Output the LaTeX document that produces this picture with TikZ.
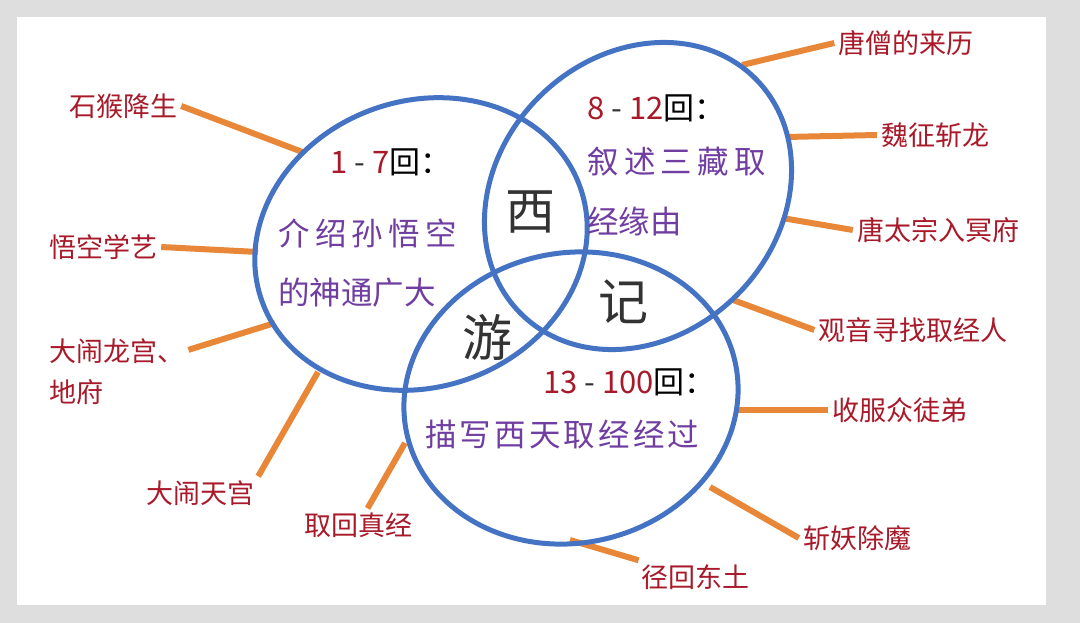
\documentclass[tikz,border=0pt]{standalone}
\usepackage{fontspec}
\setmainfont{Noto Sans CJK SC}
\usepackage{tikz}
\usetikzlibrary{calc}
\usetikzlibrary{positioning}
\usepackage{xcolor}
\definecolor{framegray}{rgb}{0.87,0.87,0.87}
\definecolor{ringblue}{rgb}{0.27,0.45,0.77}
\definecolor{stickorange}{rgb}{0.91,0.53,0.22}
\definecolor{labelred}{rgb}{0.66,0.1,0.16}
\definecolor{descpurple}{rgb}{0.44,0.24,0.63}
\definecolor{bigdark}{rgb}{0.2,0.2,0.2}

\begin{document}
\begin{tikzpicture}[
		x=1pt, y=-1pt,
		ring/.style = {draw=ringblue,	line width=5},
		r/.style = {draw=stickorange,	line width=6},
		lbl/.style = {text=labelred,	font=\fontsize{27}{41}\selectfont,	inner sep=4},
		hd/.style = {anchor=west,	inner sep=0,	font=\fontsize{31}{36}\selectfont},
		desc/.style = {anchor=west,	inner sep=0,	text=descpurple,	font=\fontsize{31.5}{36}\selectfont},
		big/.style = {text=bigdark,	inner sep=0,	font=\fontsize{50}{56}\selectfont}
		]
		\useasboundingbox (0,0) rectangle (1080,623);
		\fill[framegray] (0,0) rectangle (1080,623);
		\fill[white] (17,17) rectangle (1046,605);
		
		%Labels
		\node[lbl]	(shihou)	at	(123,106)	{石猴降生};
		\node[lbl]	(wukong)	at	(103,247)	{悟空学艺};
		\node[lbl, anchor=west, align=left]	(longgong)	at	(45,372)	{大闹龙宫、\\地府};
		\node[lbl]	(datian)	at	(200,493)	{大闹天宫};
		\node[lbl]	(quhui)		at	(358,525)	{取回真经};
		\node[lbl]	(jinghui)	at	(695,577)	{径回东土};
		\node[lbl]	(zhanyao)	at	(857,538)	{斩妖除魔};
		\node[lbl]	(shoufu)	at	(900,410)	{收服众徒弟};
		\node[lbl]	(guanyin)	at	(913,330)	{观音寻找取经人};
		\node[lbl]	(taizong)	at	(938,230)	{唐太宗入冥府};
		\node[lbl]	(weizheng)	at	(935,135)	{魏征斩龙};
		\node[lbl]	(tangseng)	at	(906,43)	{唐僧的来历};
		
		%Ring contact points
		\coordinate	(c1)	at	(305,153);
		\coordinate	(c2)	at	(258,252);
		\coordinate	(c3)	at	(275,323);
		\coordinate	(c4)	at	(318,372);
		\coordinate	(c5)	at	(405,443);
		\coordinate	(c6)	at	(570,540);
		\coordinate	(c7)	at	(710,487);
		\coordinate	(c8)	at	(735,410);
		\coordinate	(c9)	at	(733,300);
		\coordinate	(c10)	at	(782,218);
		\coordinate	(c11)	at	(786,137);
		\coordinate	(c12)	at	(742,65);
		
		%Lines
		\draw[r]	(shihou.east)		--	(c1);
		\draw[r]	(wukong.east)		--	(c2);
		\draw[r]	(longgong)			--	(c3);
		\draw[r]	(datian.north east)	--	(c4);
		\draw[r]	(quhui)				--	(c5);
		\draw[r]	(jinghui)			--	(c6);
		\draw[r]	(zhanyao.west)		--	(c7);
		\draw[r]	(shoufu.west)		--	(c8);
		\draw[r]	(guanyin.west)		--	(c9);
		\draw[r]	(taizong.west)		--	(c10);
		\draw[r]	(weizheng.west)		--	(c11);
		\draw[r]	(tangseng.west)		--	(c12);
		
		%Rings
		\draw[ring, rotate around={20:(421,244)}]	(421,244)	ellipse	(169 and 143);
		\draw[ring, rotate around={45:(638,196)}]	(638,196)	ellipse	(166 and 140);
		\draw[ring, rotate around={12:(571,398)}]	(571,398)	ellipse	(168 and 145);
		
		%Chapters
		\node[hd]	(hd1)	at	(330,162)	{\textcolor{labelred}{1}~\textcolor{bigdark}{-}~\textcolor{labelred}{7}回：};
		\node[hd]	(hd2)	at	(587,108)	{\textcolor{labelred}{8}~\textcolor{bigdark}{-}~\textcolor{labelred}{12}回：};
		\node[hd]	(hd3)	at	(543,382)	{\textcolor{labelred}{13}~\textcolor{bigdark}{-}~\textcolor{labelred}{100}回：};
		\node[desc]	(d1a)	at	(278,233)	{\addfontfeature{LetterSpace=17}介绍孙悟空};
		\node[desc]	(d1b)	at	(278,293)	{的神通广大};
		\node[desc]	(d2a)	at	(587,162)	{\addfontfeature{LetterSpace=17}叙述三藏取};
		\node[desc]	(d2b)	at	(587,222)	{经缘由};
		\node[desc]	(d3)	at	(425,435)	{\addfontfeature{LetterSpace=10}描写西天取经经过};
		
		%Title
		\node[big]	(xi)	at	(530,212)	{西};
		\node[big]	(you)	at	(487,337)	{游};
		\node[big]	(ji)	at	(623,302)	{记};
	\end{tikzpicture}
\end{document}
